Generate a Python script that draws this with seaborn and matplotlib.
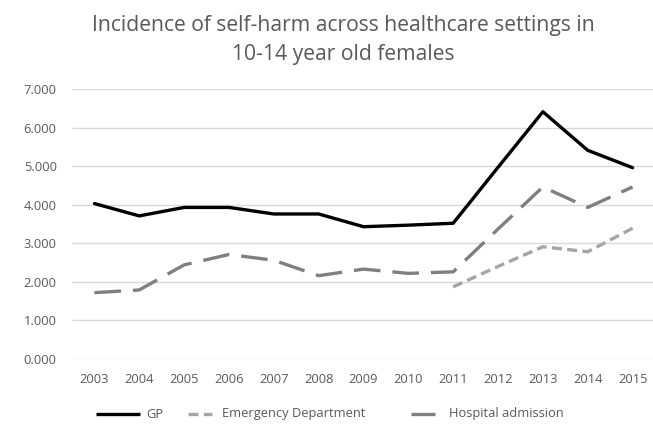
import numpy as np
import pandas as pd
import matplotlib
matplotlib.use("Agg")
import matplotlib.pyplot as plt
from matplotlib.lines import Line2D
import seaborn as sns

years = ["2003", "2004", "2005", "2006", "2007", "2008", "2009",
         "2010", "2011", "2012", "2013", "2014", "2015"]
gp = [4.03, 3.71, 3.93, 3.93, 3.76, 3.76, 3.43, 3.47, 3.52, 4.97, 6.41, 5.41, 4.96]
emergency = [np.nan] * 8 + [1.87, 2.40, 2.91, 2.78, 3.39]
hospital = [1.72, 1.79, 2.44, 2.71, 2.56, 2.16, 2.33, 2.22, 2.26, 3.37, 4.46, 3.93, 4.46]
series_names = ["GP", "Emergency Department", "Hospital admission"]
title = "Incidence of self-harm across healthcare settings in\n10-14 year old females"

df = pd.DataFrame({"year": years, series_names[0]: gp,
                   series_names[1]: emergency, series_names[2]: hospital})
long = df.melt(id_vars="year", var_name="setting", value_name="rate").dropna()
long["x"] = long["year"].map({y: i for i, y in enumerate(years)})

sns.set_style("white")
plt.rcParams["font.family"] = ["Open Sans", "DejaVu Sans"]

W, H = 653, 425
fig = plt.figure(figsize=(W / 100, H / 100), dpi=100)
ax = fig.add_axes([72 / W, 1 - 359 / H, (655 - 72) / W, (359 - 89) / H])

palette = {"GP": "#000000", "Emergency Department": "#a5a5a5",
           "Hospital admission": "#7f7f7f"}
dashes = {"GP": "", "Emergency Department": (3, 1.6),
          "Hospital admission": (8, 3.6)}
LW = 2.4
sns.lineplot(data=long, x="x", y="rate", hue="setting", style="setting",
             hue_order=series_names, style_order=series_names,
             palette=palette, dashes=dashes, linewidth=LW, ax=ax,
             legend=False, sort=False)

ax.set_xlim(-0.5, 12.5)
ax.set_ylim(0, 7)
ax.set_yticks(range(0, 8))
ax.set_yticklabels([f"{v}.000" for v in range(0, 8)])
ax.set_xticks(range(len(years)))
ax.set_xticklabels(years)
ax.grid(axis="y", color="#d9d9d9", linewidth=1)
ax.set_axisbelow(True)
for s in ax.spines.values():
    s.set_visible(False)
ax.tick_params(axis="both", length=0, labelsize=9.3, colors="#595959")
ax.tick_params(axis="x", pad=10)
ax.tick_params(axis="y", pad=11)
ax.set_xlabel("")
ax.set_ylabel("")

fig.text(343 / W, 1 - 40 / H, title, ha="center", va="center",
         fontsize=15.2, color="#595959", linespacing=1.55)

# legend row beneath the axes, laid out in pixel positions
def px(x, y):
    return x / W, 1 - y / H

ly = 414
legend_items = [
    ("GP", 96, 140, {"linestyle": "-"}, 146),
    ("Emergency Department", 188, 212, {"dashes": (3, 1.6)}, 222),
    ("Hospital admission", 411, 435, {"linestyle": "-"}, 449),
]
for name, x0, x1, style, tx in legend_items:
    (a, b), (c, d) = px(x0, ly), px(x1, ly)
    fig.add_artist(Line2D([a, c], [b, d], transform=fig.transFigure,
                          color=palette[name], linewidth=LW,
                          solid_capstyle="butt", dash_capstyle="butt", **style))
    tx_f, ty_f = px(tx, ly)
    fig.text(tx_f, ty_f, name, ha="left", va="center", fontsize=9.3,
             color="#595959")

fig.savefig("out.png", dpi=100)
